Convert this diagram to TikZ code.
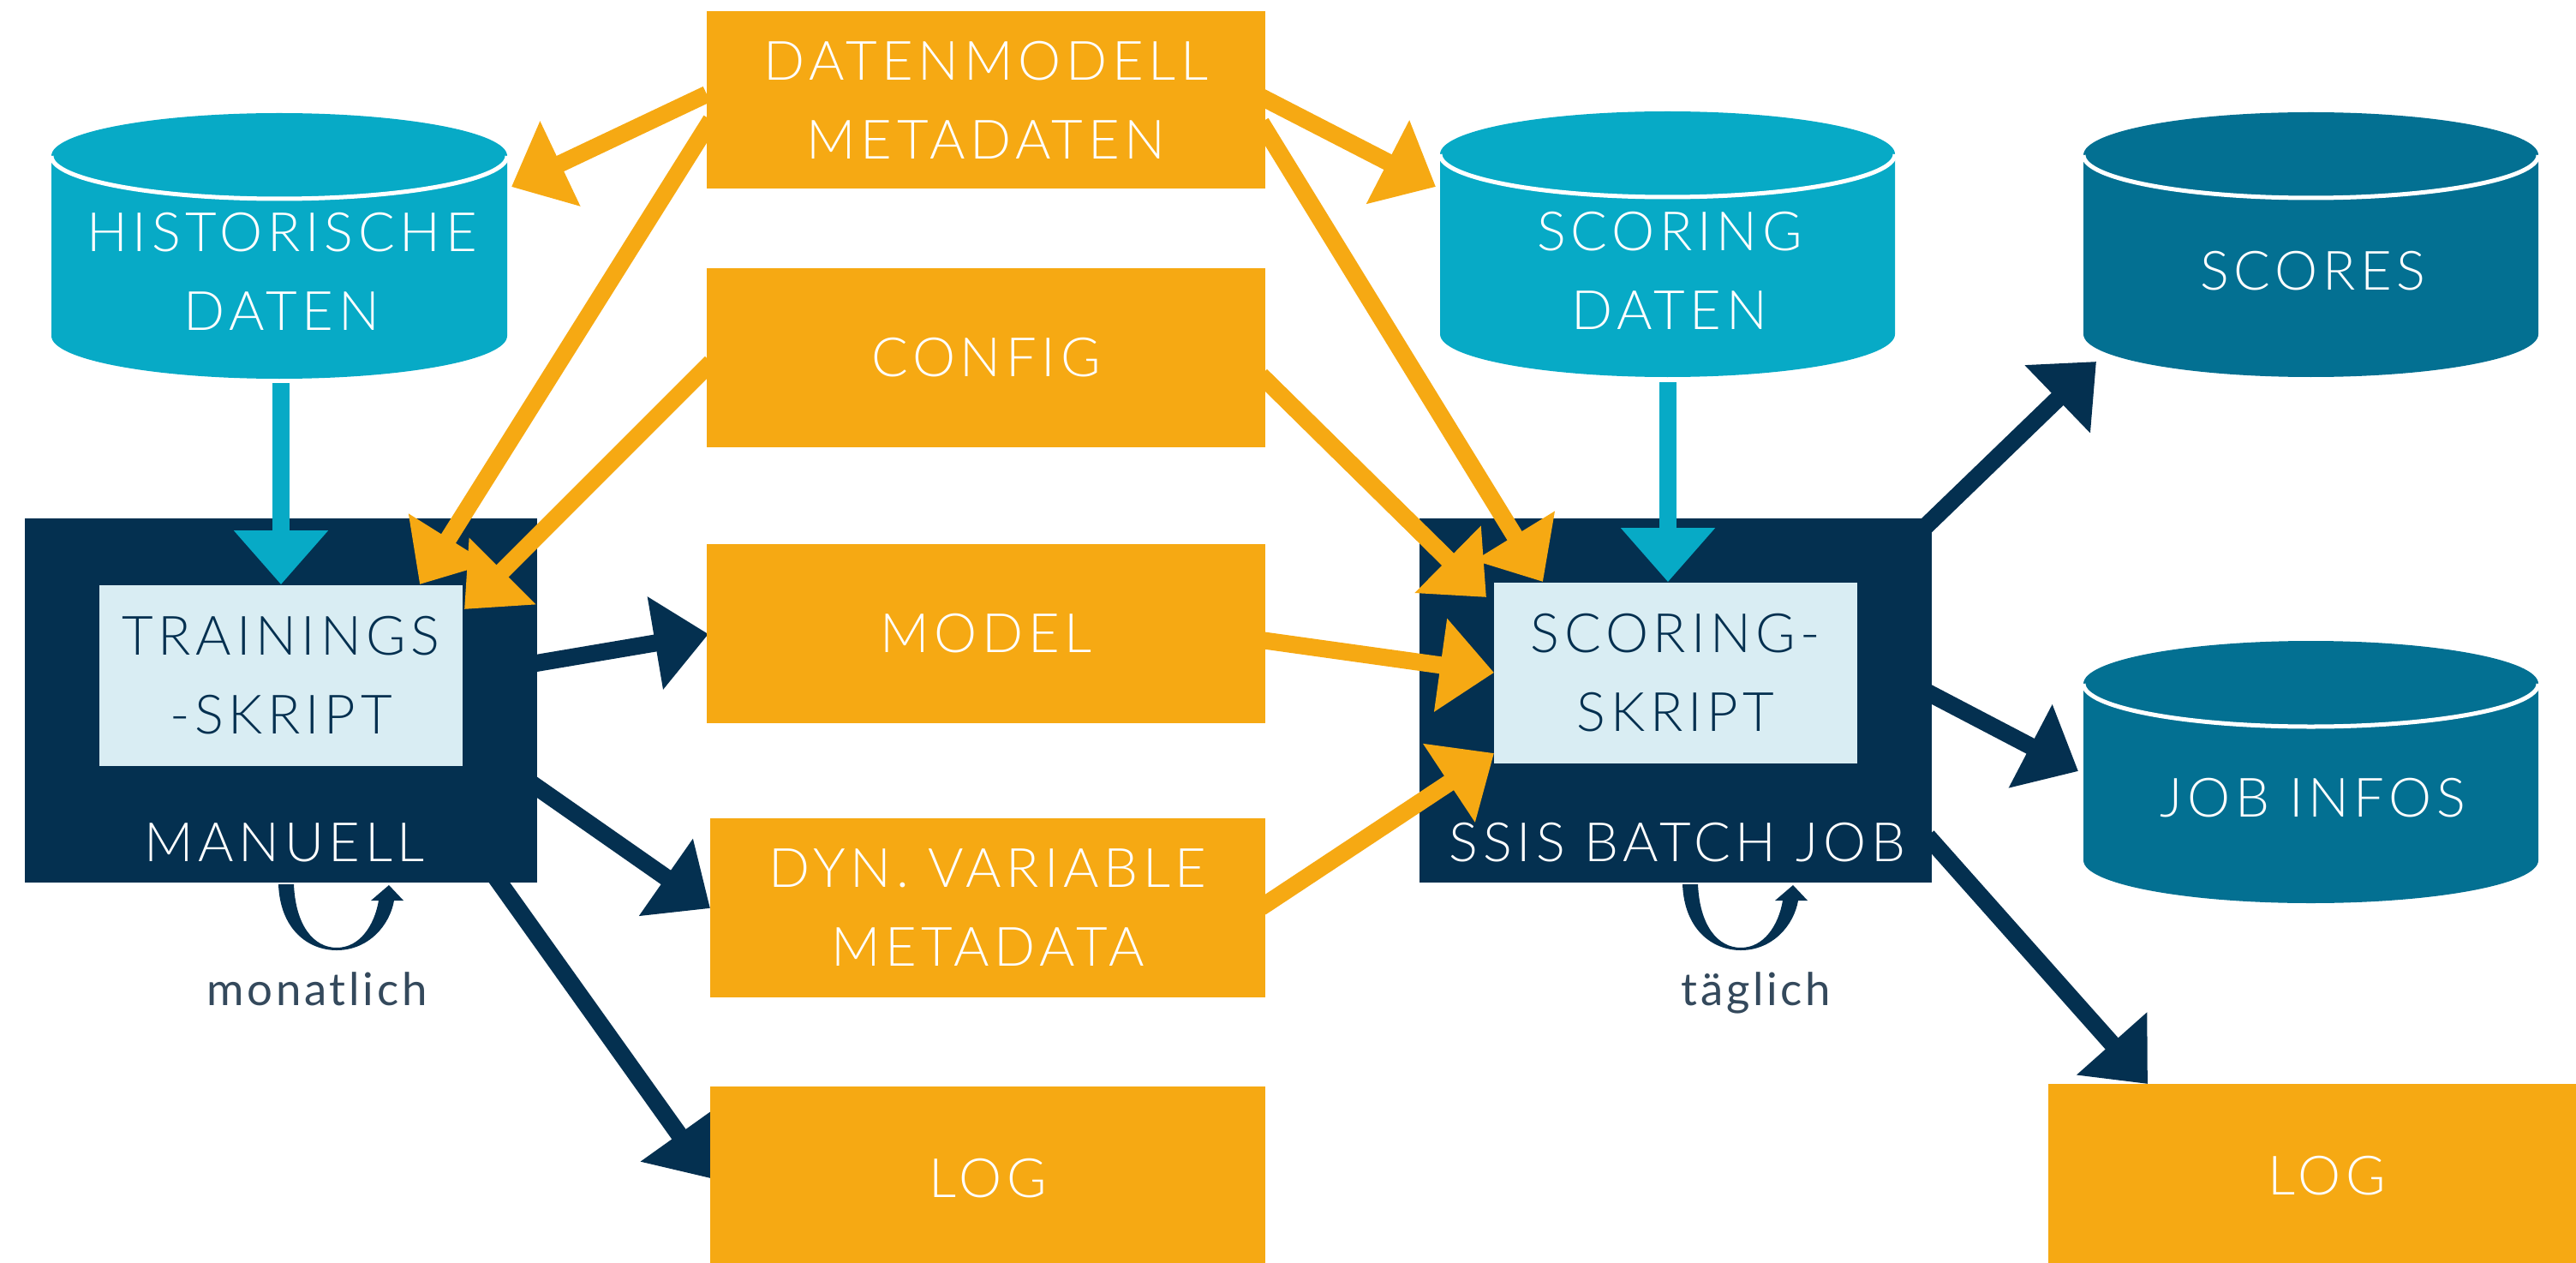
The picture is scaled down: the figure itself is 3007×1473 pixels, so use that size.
\documentclass[tikz,border=0pt]{standalone}
\usepackage{fontspec}
\setmainfont{Lato}[UprightFont=* Light, LetterSpace=9]
\newfontfamily\captfont{Lato}[LetterSpace=7]
\usetikzlibrary{arrows.meta}
\definecolor{orng}{HTML}{F6A913}
\definecolor{tealA}{HTML}{07AAC6}
\definecolor{tealB}{HTML}{037092}
\definecolor{navy}{HTML}{043050}
\definecolor{lightbox}{HTML}{D9EDF3}
\definecolor{capt}{HTML}{34495C}

% cylinder: #1 cx, #2 top-ellipse centre y, #3 bottom-ellipse centre y, #4 rx, #5 ry, #6 colour
\newcommand\dbcyl[6]{%
  \fill[#6] (#1-#4,#2) -- (#1-#4,#3)
    .. controls (#1-#4,#3+0.5523*#5) and (#1-0.5523*#4,#3+#5) .. (#1,#3+#5)
    .. controls (#1+0.5523*#4,#3+#5) and (#1+#4,#3+0.5523*#5) .. (#1+#4,#3)
    -- (#1+#4,#2) -- cycle;
  \fill[#6] (#1-#4,#2)
    .. controls (#1-#4,#2-0.5523*#5) and (#1-0.5523*#4,#2-#5) .. (#1,#2-#5)
    .. controls (#1+0.5523*#4,#2-#5) and (#1+#4,#2-0.5523*#5) .. (#1+#4,#2)
    .. controls (#1+#4,#2+0.5523*#5) and (#1+0.5523*#4,#2+#5) .. (#1,#2+#5)
    .. controls (#1-0.5523*#4,#2+#5) and (#1-#4,#2+0.5523*#5) .. (#1-#4,#2) -- cycle;
  \draw[white, line width=0.05cm] (#1-#4,#2)
    .. controls (#1-#4,#2+0.5523*#5) and (#1-0.5523*#4,#2+#5) .. (#1,#2+#5)
    .. controls (#1+0.5523*#4,#2+#5) and (#1+#4,#2+0.5523*#5) .. (#1+#4,#2);
}
% recurring loop mark: #1 x offset
\newcommand\loopmark[1]{%
  \fill[navy] (#1+325,1032) .. controls (#1+327,1085) and (#1+360,1109) .. (#1+393,1109)
    .. controls (#1+430,1109) and (#1+455,1080) .. (#1+460,1051)
    -- (#1+471,1051) -- (#1+454,1033) -- (#1+433,1051) -- (#1+442,1051)
    .. controls (#1+437,1080) and (#1+420,1106) .. (#1+393,1106)
    .. controls (#1+366,1106) and (#1+345,1080) .. (#1+343,1032) -- cycle;
}

\begin{document}
\begin{tikzpicture}[x=0.01cm,y=-0.01cm,
  lbl/.style={font=\fontsize{18pt}{26.2pt}\selectfont, align=center, inner sep=0pt},
  obox/.style={lbl, fill=orng, text=white, minimum width=6.52cm, minimum height=2.09cm},
  nbox/.style={fill=navy, inner sep=0pt, minimum width=5.98cm, minimum height=4.25cm},
  ibox/.style={lbl, fill=lightbox, text=navy, minimum width=4.24cm, minimum height=2.11cm},
  wtext/.style={lbl, text=white},
  arr/.style={line width=0.2cm, -{Triangle[length=0.63cm,width=1.06cm]}},
  oarr/.style={arr, draw=orng},
  narr/.style={arr, draw=navy},
  tarr/.style={arr, draw=tealA},
  freq/.style={font=\captfont\fontsize{15pt}{18pt}\selectfont, text=capt, inner sep=0pt, anchor=base},
]
\useasboundingbox (0,0) rectangle (3007,1473);

% databases
\dbcyl{326}{182}{392}{266}{50}{tealA}
\node[wtext] (hist) at (329,317) {HISTORISCHE\\DATEN};
\dbcyl{1946.5}{180}{390}{265.5}{50}{tealA}
\node[wtext] (scd) at (1949,316) {SCORING\\DATEN};
\dbcyl{2697.5}{181}{390}{265.5}{50}{tealB}
\node[wtext] (scores) at (2700,316) {SCORES};
\dbcyl{2697.5}{798}{1004}{265.5}{50}{tealB}
\node[wtext] (jobinfo) at (2700,931) {JOB INFOS};

% process boxes
\node[nbox] (manuell) at (328,817.5) {};
\node[ibox] (train) at (328,788.5) {TRAININGS\\-SKRIPT};
\node[wtext] (manuellLbl) at (332,983) {MANUELL};
\node[nbox] (ssis) at (1956,817.5) {};
\node[ibox] (scoring) at (1956,785.5) {SCORING-\\SKRIPT};
\node[wtext] (ssisLbl) at (1958,983) {SSIS BATCH JOB};

% connector end points
\coordinate (o1s) at (825,110);   \coordinate (o1e) at (597,218);
\coordinate (o2s) at (830,140);   \coordinate (o2e) at (490,682);
\coordinate (o3s) at (830,423);   \coordinate (o3e) at (542,711);
\coordinate (o4s) at (1472,113);  \coordinate (o4e) at (1676,218);
\coordinate (o5s) at (1472,143);  \coordinate (o5e) at (1801,679);
\coordinate (o6s) at (1472,438);  \coordinate (o6e) at (1735,697);
\coordinate (o7s) at (1472,747);  \coordinate (o7e) at (1744,785);
\coordinate (o8s) at (1472,1059); \coordinate (o8e) at (1744,879);
\coordinate (n1s) at (620,775);   \coordinate (n1e) at (827,740);
\coordinate (n2s) at (620,914);   \coordinate (n2e) at (829,1060);
\coordinate (n3s) at (578,1023);  \coordinate (n3e) at (829,1375);
\coordinate (n4s) at (2245,617);  \coordinate (n4e) at (2447,422);
\coordinate (n5s) at (2250,808);  \coordinate (n5e) at (2426,900);
\coordinate (n6s) at (2250,976);  \coordinate (n6e) at (2507,1265);
\coordinate (t1s) at (328,447);   \coordinate (t2s) at (1947,446);

% connectors
\draw[tarr] (t1s) -- (train.north);
\draw[tarr] (t2s) -- (scoring.north -| t2s);
\draw[oarr] (o1s) -- (o1e);
\draw[oarr] (o2s) -- (o2e);
\draw[oarr] (o3s) -- (o3e);
\draw[oarr] (o4s) -- (o4e);
\draw[oarr] (o5s) -- (o5e);
\draw[oarr] (o6s) -- (o6e);
\draw[oarr] (o7s) -- (o7e);
\draw[oarr] (o8s) -- (o8e);
\draw[narr] (n1s) -- (n1e);
\draw[narr] (n2s) -- (n2e);
\draw[narr] (n3s) -- (n3e);
\draw[narr] (n4s) -- (n4e);
\draw[narr] (n5s) -- (n5e);
\draw[narr] (n6s) -- (n6e);

% data boxes
\node[obox, minimum height=2.07cm] (dm) at (1151,116.5) {DATENMODELL\\METADATEN};
\node[obox] (cfg) at (1151,417.5) {CONFIG};
\node[obox] (model) at (1151,739.5) {MODEL};
\node[obox, minimum width=6.48cm] (dyn) at (1153,1059.5) {DYN. VARIABLE\\METADATA};
\node[obox, minimum width=6.48cm, minimum height=2.13cm] (logL) at (1153,1375) {LOG};
\node[obox, minimum width=6.50cm, minimum height=2.13cm] (logR) at (2716,1372) {LOG};

% schedule marks
\loopmark{0}
\node[freq] (monat) at (370,1173) {monatlich};
\loopmark{1639}
\node[freq] (taegl) at (2050,1173) {täglich};
\end{tikzpicture}
\end{document}
